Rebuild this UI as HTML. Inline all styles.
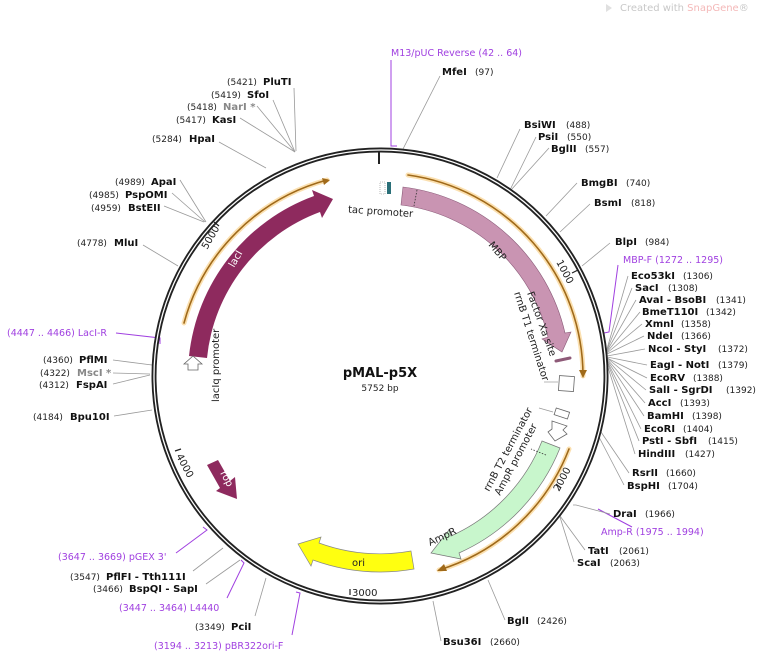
<!DOCTYPE html>
<html><head><meta charset="utf-8"><style>
html,body{margin:0;padding:0;background:#fff;}
svg{display:block;font-family:"DejaVu Sans","Liberation Sans",sans-serif;}
.n{font-size:9px;fill:#222;}
.b{font-size:10px;font-weight:bold;fill:#111;}
.g{font-size:10px;font-weight:bold;fill:#888;}
.p{font-size:9.5px;fill:#a040e0;}
.l{stroke:#999;stroke-width:0.8;fill:none;}
.pl{stroke:#a040e0;stroke-width:1;fill:none;}
.f{font-size:10px;fill:#222;}
</style></head><body>
<svg width="760" height="652" viewBox="0 0 760 652" xmlns="http://www.w3.org/2000/svg">
<text x="620" y="11" style="font-size:10px;fill:#c8c8c8">Created with <tspan fill="#f4b8b8">SnapGene</tspan>®</text>
<path d="M606 4 l6 4 -6 4z" fill="#e0e0e0"/>

<g class="l">
<path d="M294 88 L296 151"/><path d="M273 100 L295 152"/><path d="M257 106 L295 152"/><path d="M240 118 L295 152"/>
<path d="M219 142 L266 168"/>
<path d="M180 180 L206 222"/><path d="M172 193 L205 222"/><path d="M164 206 L204 222"/>
<path d="M143 245 L178 266"/>
<path d="M113 360 L152 365"/><path d="M113 373 L150 374"/><path d="M113 384 L150 375"/>
<path d="M114 416 L152 410"/>
<path d="M193 571 L223 548"/><path d="M206 584 L240 560"/><path d="M255 616 L266 578"/>
</g>
<g class="pl">
<path d="M116 333 L160 338 L160 344"/>
<path d="M176 553 L207 530 L203 527"/>
<path d="M227 598 L244 563 L241 560"/>
<path d="M292 635 L300 593 L296 592"/>
<path d="M391 60 L391 146 L397 146"/>
<path d="M618 265 L609 332 L604 333"/>
<path d="M598 509 L632 527"/>
</g>
<g class="l">
<path d="M440 76 L403 149"/>
<path d="M520 129 L497 178"/><path d="M536 137 L510 190"/><path d="M549 148 L511 190"/>
<path d="M577 183 L546 216"/><path d="M590 204 L560 232"/><path d="M610 243 L582 266"/>
<path d="M628 276 L607 349"/><path d="M632 288 L607 350"/><path d="M636 300 L607 351"/><path d="M640 312 L607 352"/>
<path d="M642 324 L607 353"/><path d="M644 336 L607 354"/><path d="M645 349 L607 356"/><path d="M647 365 L607 357"/>
<path d="M647 378 L607 358"/><path d="M646 390 L607 358"/><path d="M645 403 L607 359"/><path d="M644 416 L607 360"/>
<path d="M641 429 L607 361"/><path d="M639 441 L607 362"/><path d="M635 454 L607 364"/>
<path d="M629 473 L601 432"/><path d="M624 485 L599 437"/>
<path d="M610 514 L576 505 L573 505"/>
<path d="M585 550 L560 516"/><path d="M574 562 L560 517"/>
<path d="M505 620 L488 580"/><path d="M441 641 L433 601"/>
</g>

<circle cx="380" cy="376" r="226" fill="none" stroke="#222" stroke-width="5"/>
<circle cx="380" cy="376" r="226" fill="none" stroke="#fff" stroke-width="1.3"/>
<path d="M379 151 V164" stroke="#222" stroke-width="2"/>

<g stroke="#222" stroke-width="1.2">
<path d="M578 270 l-6 3"/><path d="M561 488 l-5 -4"/><path d="M350 595 l0 -6"/><path d="M175 451 l6 -2"/><path d="M214 222 l5 4"/>
</g>
<g class="f">
<text transform="translate(556,262) rotate(62)">1000</text>
<text transform="translate(559,492) rotate(-62)">2000</text>
<text x="352" y="596">3000</text>
<text transform="translate(176,456) rotate(62)">4000</text>
<text transform="translate(207,250) rotate(-60)">5000</text>
</g>

<g fill="none" stroke-linecap="round">
<g stroke="#fbe0b0" stroke-width="5">
<path d="M408 175 A203 203 0 0 1 583 376"/>
<path d="M184 323 A203 203 0 0 1 327 180"/>
<path d="M569 449 A203 203 0 0 1 439 570"/>
</g>
<g stroke="#a06a1a" stroke-width="1.6">
<path d="M408 175 A203 203 0 0 1 583 376"/>
<path d="M184 323 A203 203 0 0 1 327 180"/>
<path d="M569 449 A203 203 0 0 1 439 570"/>
</g>
</g>
<path d="M579 370 L583 378 L587 370z" fill="#a06a1a"/>
<path d="M322 178 L330 180 L324 185z" fill="#a06a1a"/>
<path d="M444 564 L437 571 L447 571z" fill="#a06a1a"/>

<path d="M403 187 A190 190 0 0 1 565 333 L571 332 L562 352 L542 339 L548 337 A172 172 0 0 0 401 205 Z" fill="#c994b2" stroke="#8a5a78" stroke-width="0.6"/>
<path d="M417 190 l-3 16" stroke="#333" stroke-dasharray="1.5 1.5" stroke-width="0.8"/>
<text transform="translate(488,245) rotate(50)" class="f">MBP</text>

<path d="M189 356 A192 192 0 0 1 314 196 L312 190 L333 199 L322 218 L320 212 A174 174 0 0 0 207 358 Z" fill="#8e2a5e"/>
<text transform="translate(234,268) rotate(-60)" style="font-size:10px;fill:#fff">lacI</text>

<polygon points="193,356 202,364 198,364 198,370 188,370 188,364 184,364" fill="#fff" stroke="#666" stroke-width="0.8"/>
<text transform="translate(219,402) rotate(-90)" class="f">lacIq promoter</text>

<polygon points="207,465 218,460 230,481 235,477 237,499 216,491 220,488" fill="#8e2a5e"/>
<text transform="translate(220,473) rotate(62)" style="font-size:10px;fill:#fff">rop</text>

<path d="M560 448 A194 194 0 0 1 459 553 L461 559 L431 553 L449 530 L451 536 A175 175 0 0 0 542 441 Z" fill="#c8f6cc" stroke="#777" stroke-width="0.7"/>
<path d="M546 455 l-15 -6" stroke="#333" stroke-dasharray="1.5 1.5" stroke-width="0.8"/>
<text transform="translate(430,546) rotate(-25)" class="f">AmpR</text>

<path d="M414 569 A196 196 0 0 1 313 560 L311 566 L298 544 L321 537 L319 543 A178 178 0 0 0 411 551 Z" fill="#ffff10" stroke="#888" stroke-width="0.7"/>
<text x="352" y="566" class="f">ori</text>

<rect x="387" y="182" width="4" height="12" fill="#2a6f78"/>
<rect x="380" y="182" width="5" height="12" fill="#fff" stroke="#888" stroke-width="0.6" stroke-dasharray="1 1"/>
<text x="348" y="215" class="f" transform="rotate(4 383 212)">tac promoter</text>

<path d="M556 361 l14 -3" stroke="#8e5a78" stroke-width="3" stroke-linecap="round"/>
<rect x="559" y="376" width="15" height="15" fill="#fff" stroke="#666" stroke-width="0.8" transform="rotate(4 566 383)"/>
<path d="M544 382 l14 0" stroke="#999" stroke-width="0.7"/>
<rect x="555" y="410" width="14" height="7" fill="#fff" stroke="#666" stroke-width="0.8" transform="rotate(18 562 413)"/>
<polygon points="552,421 567,426 563,430 567,434 555,441 548,432 552,429" fill="#fff" stroke="#666" stroke-width="0.8"/>
<path d="M539 408 l14 4" stroke="#999" stroke-width="0.7"/>
<text transform="translate(527,293) rotate(70)" class="f">Factor Xa site</text>
<text transform="translate(514,293) rotate(72)" class="f">rrnB T1 terminator</text>
<text transform="translate(489,492) rotate(-62)" class="f">rrnB T2 terminator</text>
<text transform="translate(500,496) rotate(-62)" class="f">AmpR promoter</text>

<text x="380" y="377" text-anchor="middle" style="font-size:13px;font-weight:bold;fill:#111">pMAL-p5X</text>
<text x="380" y="391" text-anchor="middle" class="n">5752 bp</text>

<text x="227" y="85" class="n">(5421)</text><text x="263" y="85" class="b">PluTI</text>
<text x="211" y="98" class="n">(5419)</text><text x="247" y="98" class="b">SfoI</text>
<text x="187" y="110" class="n">(5418)</text><text x="223" y="110" class="g">NarI *</text>
<text x="176" y="123" class="n">(5417)</text><text x="212" y="123" class="b">KasI</text>
<text x="152" y="142" class="n">(5284)</text><text x="189" y="142" class="b">HpaI</text>
<text x="115" y="185" class="n">(4989)</text><text x="151" y="185" class="b">ApaI</text>
<text x="89" y="198" class="n">(4985)</text><text x="125" y="198" class="b">PspOMI</text>
<text x="91" y="211" class="n">(4959)</text><text x="128" y="211" class="b">BstEII</text>
<text x="77" y="246" class="n">(4778)</text><text x="114" y="246" class="b">MluI</text>
<text x="7" y="336" class="p">(4447 .. 4466)  LacI-R</text>
<text x="43" y="363" class="n">(4360)</text><text x="79" y="363" class="b">PflMI</text>
<text x="40" y="376" class="n">(4322)</text><text x="77" y="376" class="g">MscI *</text>
<text x="39" y="388" class="n">(4312)</text><text x="76" y="388" class="b">FspAI</text>
<text x="33" y="420" class="n">(4184)</text><text x="70" y="420" class="b">Bpu10I</text>
<text x="58" y="560" class="p">(3647 .. 3669)  pGEX 3'</text>
<text x="70" y="580" class="n">(3547)</text><text x="106" y="580" class="b">PflFI  - Tth111I</text>
<text x="93" y="592" class="n">(3466)</text><text x="129" y="592" class="b">BspQI  - SapI</text>
<text x="119" y="611" class="p">(3447 .. 3464)  L4440</text>
<text x="195" y="630" class="n">(3349)</text><text x="231" y="630" class="b">PciI</text>
<text x="154" y="649" class="p">(3194 .. 3213)  pBR322ori-F</text>

<text x="391" y="56" class="p">M13/pUC Reverse   (42 .. 64)</text>
<text x="442" y="75" class="b">MfeI</text><text x="475" y="75" class="n">(97)</text>
<text x="524" y="128" class="b">BsiWI</text><text x="566" y="128" class="n">(488)</text>
<text x="538" y="140" class="b">PsiI</text><text x="567" y="140" class="n">(550)</text>
<text x="551" y="152" class="b">BglII</text><text x="585" y="152" class="n">(557)</text>
<text x="581" y="186" class="b">BmgBI</text><text x="626" y="186" class="n">(740)</text>
<text x="594" y="206" class="b">BsmI</text><text x="631" y="206" class="n">(818)</text>
<text x="615" y="245" class="b">BlpI</text><text x="645" y="245" class="n">(984)</text>
<text x="623" y="263" class="p">MBP-F   (1272 .. 1295)</text>
<text x="631" y="279" class="b">Eco53kI</text><text x="683" y="279" class="n">(1306)</text>
<text x="635" y="291" class="b">SacI</text><text x="668" y="291" class="n">(1308)</text>
<text x="639" y="303" class="b">AvaI  - BsoBI</text><text x="716" y="303" class="n">(1341)</text>
<text x="642" y="315" class="b">BmeT110I</text><text x="706" y="315" class="n">(1342)</text>
<text x="645" y="327" class="b">XmnI</text><text x="681" y="327" class="n">(1358)</text>
<text x="647" y="339" class="b">NdeI</text><text x="681" y="339" class="n">(1366)</text>
<text x="648" y="352" class="b">NcoI  - StyI</text><text x="718" y="352" class="n">(1372)</text>
<text x="650" y="368" class="b">EagI  - NotI</text><text x="718" y="368" class="n">(1379)</text>
<text x="650" y="381" class="b">EcoRV</text><text x="693" y="381" class="n">(1388)</text>
<text x="649" y="393" class="b">SalI  - SgrDI</text><text x="726" y="393" class="n">(1392)</text>
<text x="648" y="406" class="b">AccI</text><text x="680" y="406" class="n">(1393)</text>
<text x="647" y="419" class="b">BamHI</text><text x="692" y="419" class="n">(1398)</text>
<text x="644" y="432" class="b">EcoRI</text><text x="683" y="432" class="n">(1404)</text>
<text x="642" y="444" class="b">PstI  - SbfI</text><text x="708" y="444" class="n">(1415)</text>
<text x="638" y="457" class="b">HindIII</text><text x="685" y="457" class="n">(1427)</text>
<text x="632" y="476" class="b">RsrII</text><text x="666" y="476" class="n">(1660)</text>
<text x="627" y="489" class="b">BspHI</text><text x="668" y="489" class="n">(1704)</text>
<text x="613" y="517" class="b">DraI</text><text x="645" y="517" class="n">(1966)</text>
<text x="601" y="535" class="p">Amp-R   (1975 .. 1994)</text>
<text x="588" y="554" class="b">TatI</text><text x="619" y="554" class="n">(2061)</text>
<text x="577" y="566" class="b">ScaI</text><text x="610" y="566" class="n">(2063)</text>
<text x="507" y="624" class="b">BglI</text><text x="537" y="624" class="n">(2426)</text>
<text x="443" y="645" class="b">Bsu36I</text><text x="490" y="645" class="n">(2660)</text>
</svg>
</body></html>
